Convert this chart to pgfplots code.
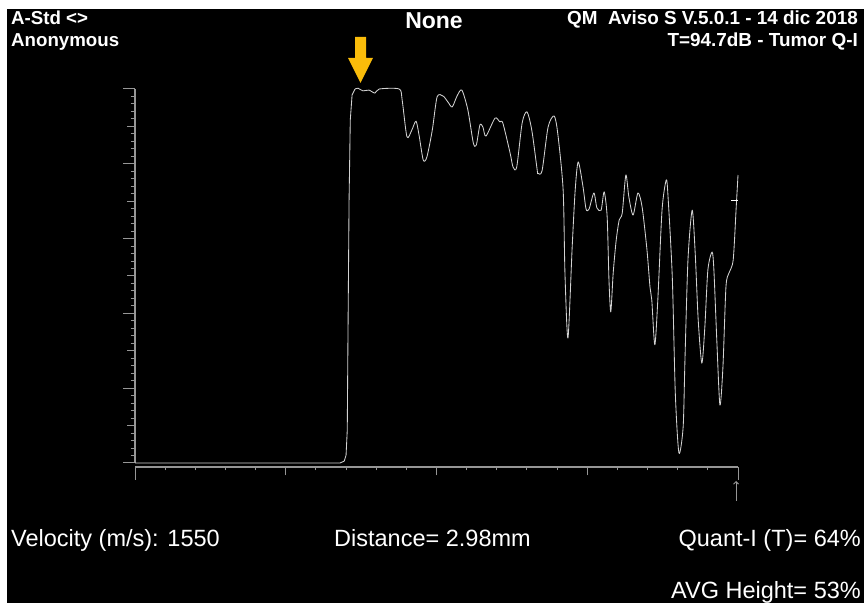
\documentclass[border=0pt]{standalone}
\usepackage{fontspec}
\setmainfont{Liberation Sans}
\usepackage{pgfplots}
\usepackage{pgfplotstable}
\pgfplotsset{compat=1.18}
\usetikzlibrary{arrows.meta}
\definecolor{trace}{RGB}{210,210,210}
\definecolor{axisgray}{RGB}{150,150,150}
\definecolor{marker}{RGB}{250,188,10}

% A-scan trace: x = position (0-100 of the window), y = amplitude in %
\pgfplotstableread{
x y
0 0
34.0 0
34.7 0.5
35.0 2.1
35.2 8.8
35.3 30.2
35.5 70.3
35.7 91.7
36.0 98.4
36.5 100
37.0 100.2
37.8 99.5
38.8 99.7
39.8 98.9
40.5 100
43.8 100
44.3 97.1
45.1 87.2
45.9 89.0
46.6 91.4
47.1 87.7
47.8 81.0
48.4 81.8
49.3 89.0
50.1 97.9
51.1 98.1
51.9 96.5
52.6 95.2
53.4 98.1
54.2 99.7
55.2 94.4
56.1 85.6
56.6 85.0
57.2 90.4
57.7 89.8
58.2 87.4
59.7 92.2
60.5 91.2
61.0 90.9
62.2 82.9
62.7 79.1
63.3 79.1
64.2 90.9
65.0 93.9
65.8 89.0
66.7 78.3
66.8 77.5
67.5 78.1
68.5 89.8
69.5 92.8
70.1 88.2
71.0 73.0
71.3 50.8
71.8 33.4
72.5 57.8
73.0 73.0
73.5 80.5
74.3 73.8
74.8 67.9
75.3 67.9
76.1 72.2
76.6 68.2
77.3 67.6
77.8 72.5
78.3 65.8
78.6 48.9
78.9 40.4
79.3 50.8
79.8 59.6
80.3 65.0
80.8 66.8
81.4 77.0
81.9 71.1
82.6 66.3
83.4 72.2
84.1 68.4
84.9 57.0
85.4 47.1
85.7 43.6
86.2 31.6
86.7 43.6
87.4 67.6
88.1 75.7
88.4 71.1
89.1 49.7
89.6 18.7
90.2 2.7
90.9 9.6
91.2 27.5
91.7 54.3
92.4 67.6
92.9 56.1
93.4 38.2
94.0 26.7
94.5 36.4
95.0 51.6
95.7 56.4
96.0 51.6
96.5 32.1
97.0 15.5
97.5 25.7
98.0 47.1
98.5 50.8
99.2 54.3
99.7 68.4
100 77.0
}\tracedata

\begin{document}
\begin{tikzpicture}[x=1bp,y=1bp]
\useasboundingbox (0,0) rectangle (864,603);
\fill[white] (0,0) rectangle (864,603);
\fill[black] (7,0) rectangle (864,594);

% header
\node[anchor=base west, inner sep=0, text=white, font=\fontsize{18.7bp}{20bp}\selectfont\bfseries] at (11,578) {A-Std <>};
\node[anchor=base west, inner sep=0, text=white, font=\fontsize{18.7bp}{20bp}\selectfont\bfseries] at (11,556) {Anonymous};
\node[anchor=base, inner sep=0, text=white, font=\fontsize{23bp}{24bp}\selectfont\bfseries] at (434,574) {None};
\node[anchor=base east, inner sep=0, text=white, font=\fontsize{18.9bp}{20bp}\selectfont\bfseries] at (858,578) {QM\ \ Aviso S V.5.0.1 - 14 dic 2018};
\node[anchor=base east, inner sep=0, text=white, font=\fontsize{18.9bp}{20bp}\selectfont\bfseries] at (858,556) {T=94.7dB - Tumor Q-I};

% trace with y scale
\begin{axis}[
  at={(135bp,140bp)}, anchor=south west,
  scale only axis, width=603bp, height=374bp,
  xmin=0, xmax=100, ymin=0, ymax=100,
  clip=false,
  axis x line=none, axis y line*=left,
  axis line style={axisgray, line width=1.2bp},
  tick align=outside, ytick pos=left,
  ytick={0,20,...,100}, yticklabels={},
  minor y tick num=9,
  major tick length=12bp, minor tick length=4.5bp,
  tick style={axisgray, line width=1bp},
  extra y ticks={10,30,50,70,90}, extra y tick labels={},
  extra y tick style={major tick length=8bp},
]
% rising edge kept sharp, echo region smoothed
\addplot[trace, line width=0.85bp, line join=round, restrict x to domain=0:36.5] table[x=x, y=y] {\tracedata};
\addplot[trace, line width=0.85bp, line join=round, smooth, tension=0.45, restrict x to domain=36.5:100] table[x=x, y=y] {\tracedata};
\end{axis}

% distance scale below
\begin{axis}[
  at={(135bp,136bp)}, anchor=south west,
  scale only axis, width=603bp, height=10bp,
  xmin=0, xmax=100, ymin=0, ymax=1,
  axis y line=none, axis x line*=bottom,
  axis line style={axisgray, line width=1.2bp},
  tick align=outside, xtick pos=bottom,
  xtick={0,100}, xticklabels={},
  minor x tick num=19,
  major tick length=13bp, minor tick length=3.5bp,
  tick style={axisgray, line width=1bp},
  extra x ticks={25,50,75}, extra x tick labels={},
  extra x tick style={major tick length=8.5bp},
]
\end{axis}

% cursor marks
\draw[axisgray, line width=1bp, -{Straight Barb[length=2.5bp]}] (736,102) -- (736,122);
\draw[white, line width=1bp] (731,402) -- (738,402);

% peak indicator
\fill[marker] (355,566) -- (366,566) -- (366,545) -- (373,545) -- (360.5,520) -- (348,545) -- (355,545) -- cycle;

% footer
\node[anchor=base west, inner sep=0, text=white, font=\fontsize{23.5bp}{24bp}\selectfont] at (11,56) {Velocity (m/s): 1550};
\node[anchor=base west, inner sep=0, text=white, font=\fontsize{23.5bp}{24bp}\selectfont] at (334,56) {Distance= 2.98mm};
\node[anchor=base east, inner sep=0, text=white, font=\fontsize{23.5bp}{24bp}\selectfont] at (861,56) {Quant-I (T)= 64\%};
\node[anchor=base east, inner sep=0, text=white, font=\fontsize{23.5bp}{24bp}\selectfont] at (861,4) {AVG Height= 53\%};
\end{tikzpicture}
\end{document}
